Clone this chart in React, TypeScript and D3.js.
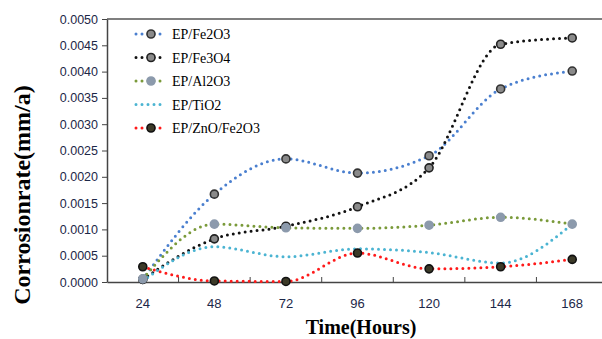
import { useEffect, useRef } from "react";
import * as d3 from "d3";

const hours = ["24", "48", "72", "96", "120", "144", "168"];
const yTicks = [0, 0.0005, 0.001, 0.0015, 0.002, 0.0025, 0.003, 0.0035, 0.004, 0.0045, 0.005];

const fe2o3 = [0.00005, 0.00167, 0.00234, 0.00207, 0.0024, 0.00367, 0.00401];
const fe3o4 = [0.00005, 0.00082, 0.00106, 0.00143, 0.00217, 0.00452, 0.00464];
const al2o3 = [0.00006, 0.0011, 0.00103, 0.00102, 0.00108, 0.00123, 0.0011];
const tio2 = [0.00002, 0.00067, 0.00048, 0.00063, 0.00056, 0.00036, 0.0011];
const znoFe2o3 = [0.00029, 0.00002, 0.00001, 0.00055, 0.00025, 0.00029, 0.00043];

const seriesNames = ["EP/Fe2O3", "EP/Fe3O4", "EP/Al2O3", "EP/TiO2", "EP/ZnO/Fe2O3"];
const seriesValues = [fe2o3, fe3o4, al2o3, tio2, znoFe2o3];
const lineColors = ["#4a7fcf", "#111111", "#7a9a3a", "#4bb4d2", "#ff1a1a"];
const markerFill = ["#8a8a8a", "#8a8a8a", "#8c9aac", null, "#3c3a28"];
const markerStroke = ["#333333", "#222222", "#8c9aac", null, "#111111"];

const App = () => {
	const svgRef = useRef<SVGSVGElement>(null);

	useEffect(() => {
		if (!svgRef.current) return;
		const svg = d3.select(svgRef.current);
		svg.selectAll("*").remove();

		const margin = { top: 19, left: 107, right: -6, bottom: 57 };
		const width = 602;
		const height = 339;

		const x = d3
			.scaleBand()
			.domain(hours)
			.range([margin.left, width - margin.right]);
		const y = d3
			.scaleLinear()
			.domain([0, 0.005])
			.range([height - margin.bottom, margin.top]);

		const cx = (h: string) => (x(h) ?? 0) + x.bandwidth() / 2;

		// frame: top border + axes
		svg
			.append("line")
			.attr("x1", margin.left)
			.attr("x2", width)
			.attr("y1", margin.top)
			.attr("y2", margin.top)
			.attr("stroke", "#555")
			.attr("stroke-width", 1.5);

		const yAxis = svg
			.append("g")
			.attr("transform", `translate(${margin.left},0)`)
			.call(
				d3
					.axisLeft(y)
					.tickValues(yTicks)
					.tickFormat(d3.format(".4f"))
					.tickSize(5)
					.tickSizeOuter(0)
			);
		yAxis.select(".domain").attr("stroke", "#444").attr("stroke-width", 1.5);
		yAxis.selectAll(".tick line").attr("stroke", "#444");
		yAxis
			.selectAll("text")
			.attr("fill", "#1c2748")
			.style("font-family", "'Liberation Sans', Arial, sans-serif")
			.style("font-size", "12.5px")
			.attr("x", -9);

		const xAxis = svg
			.append("g")
			.attr("transform", `translate(0,${height - margin.bottom})`)
			.call(d3.axisBottom(x).tickSize(0).tickSizeOuter(0));
		xAxis.select(".domain").attr("stroke", "#444").attr("stroke-width", 1.5);
		xAxis
			.selectAll("text")
			.attr("fill", "#1c2748")
			.attr("dy", 0)
			.attr("y", 26)
			.style("font-family", "'Liberation Sans', Arial, sans-serif")
			.style("font-size", "13px");

		// inward ticks between categories
		svg
			.append("g")
			.selectAll("line")
			.data(hours.slice(1))
			.join("line")
			.attr("x1", (d) => x(d) ?? 0)
			.attr("x2", (d) => x(d) ?? 0)
			.attr("y1", height - margin.bottom)
			.attr("y2", height - margin.bottom - 5)
			.attr("stroke", "#444");

		const line = d3
			.line<number>()
			.x((_, i) => cx(hours[i]))
			.y((d) => y(d))
			.curve(d3.curveMonotoneX);

		seriesValues.forEach((vals, s) => {
			svg
				.append("path")
				.datum(vals)
				.attr("d", line)
				.attr("fill", "none")
				.attr("stroke", lineColors[s])
				.attr("stroke-width", 3)
				.attr("stroke-linecap", "round")
				.attr("stroke-dasharray", "0 6");
		});

		seriesValues.forEach((vals, s) => {
			if (!markerFill[s]) return;
			svg
				.append("g")
				.selectAll("circle")
				.data(vals)
				.join("circle")
				.attr("cx", (_, i) => cx(hours[i]))
				.attr("cy", (d) => y(d))
				.attr("r", 4)
				.attr("fill", markerFill[s]!)
				.attr("stroke", markerStroke[s]!)
				.attr("stroke-width", 1.6);
		});

		// legend
		const legend = svg.append("g");
		seriesNames.forEach((name, s) => {
			const ly = 34 + s * 23.5;
			legend
				.append("line")
				.attr("x1", 136)
				.attr("x2", 163)
				.attr("y1", ly)
				.attr("y2", ly)
				.attr("stroke", lineColors[s])
				.attr("stroke-width", 3)
				.attr("stroke-linecap", "round")
				.attr("stroke-dasharray", "0 6");
			if (markerFill[s]) {
				legend
					.append("circle")
					.attr("cx", 151)
					.attr("cy", ly)
					.attr("r", 4)
					.attr("fill", markerFill[s]!)
					.attr("stroke", markerStroke[s]!)
					.attr("stroke-width", 1.6);
			}
			legend
				.append("text")
				.attr("x", 172)
				.attr("y", ly + 5)
				.style("font-family", "'Liberation Serif', 'Times New Roman', serif")
				.style("font-size", "14px")
				.attr("fill", "#000")
				.text(name);
		});

		// axis titles
		svg
			.append("text")
			.attr("transform", `translate(30,195) rotate(-90)`)
			.attr("text-anchor", "middle")
			.style("font-family", "'Liberation Serif', 'Times New Roman', serif")
			.style("font-weight", "bold")
			.style("font-size", "24px")
			.attr("fill", "#000")
			.text("Corrosionrate(mm/a)");

		svg
			.append("text")
			.attr("x", 361)
			.attr("y", 334)
			.attr("text-anchor", "middle")
			.style("font-family", "'Liberation Serif', 'Times New Roman', serif")
			.style("font-weight", "bold")
			.style("font-size", "20px")
			.attr("fill", "#000")
			.text("Time(Hours)");
	}, []);

	return (
		<svg
			ref={svgRef}
			width={602}
			height={339}
			style={{ position: "absolute", left: 0, top: 0, background: "#fff" }}
		/>
	);
};

export default App;
